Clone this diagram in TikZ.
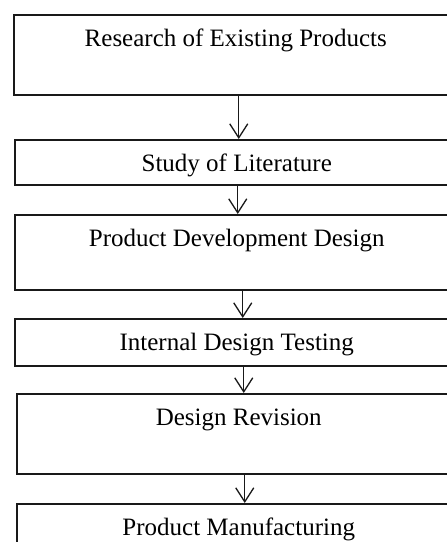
\documentclass[tikz,border=0pt]{standalone}
\usepackage{fontspec}
\setmainfont{Liberation Serif}
\usetikzlibrary{arrows.meta}
\begin{document}
\begin{tikzpicture}[x=1pt,y=1pt,
  stepbox/.style={draw=black!90, line width=1.5pt, rectangle, anchor=north west,
    minimum width=444pt, inner sep=0pt, text height=32pt, text depth=#1,
    font=\fontsize{25}{29}\selectfont},
  arr/.style={draw=black!90, line width=1.3pt, -{Straight Barb[length=14pt,width=18pt,line width=1.3pt]}}]
\useasboundingbox (0,0) rectangle (447,-542);
\clip (0,0) rectangle (447,-542);
\fill[white] (0,0) rectangle (447,-542);
\node[stepbox=48pt] (b1) at (13,-14) {Research of Existing Products};
\node[stepbox=13pt] (b2) at (14,-139) {Study of Literature};
\node[stepbox=43pt] (b3) at (14,-214) {Product Development Design};
\node[stepbox=15pt] (b4) at (14,-318) {Internal Design Testing};
\node[stepbox=48pt] (b5) at (16,-393) {Design Revision};
\node[stepbox=15pt] (b6) at (16,-503) {Product Manufacturing};
\draw[arr] ([xshift=3pt]b1.south) -- ([xshift=2pt]b2.north);
\draw[arr] ([xshift=1pt]b2.south) -- ([xshift=1pt]b3.north);
\draw[arr] ([xshift=6pt]b3.south) -- ([xshift=6pt]b4.north);
\draw[arr] ([xshift=7pt]b4.south) -- ([xshift=5pt]b5.north);
\draw[arr] ([xshift=6pt]b5.south) -- ([xshift=6pt]b6.north);
\end{tikzpicture}
\end{document}
